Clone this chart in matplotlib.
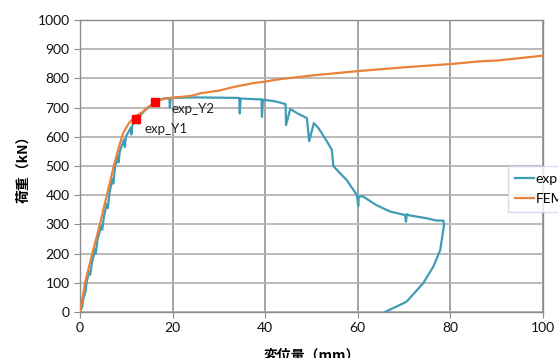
import matplotlib
matplotlib.use("Agg")
import matplotlib.pyplot as plt

# FEM curve (displacement mm, load kN)
fem_x = [0, 1.1, 2.65, 4.3, 5.8, 7.3, 8.5, 9.3, 10.5, 11.5, 12.5, 13.5, 14.4, 16, 18, 20,
         22, 24, 26, 30, 33, 37.5, 40, 43, 50, 60, 70, 80, 86, 88, 90, 100]
fem_y = [0, 100, 200, 300, 400, 500, 570, 612, 645, 663, 675, 685, 698, 716, 730, 734,
         737, 740, 749, 758, 770, 784, 789, 797, 810, 825, 838, 849, 858, 860, 861, 878]

# Experimental curve
exp_x = [0, 0.5, 0.7, 1.2, 1.4, 2.0, 2.2, 2.6, 3.3, 3.4, 3.8, 4.6, 4.8, 5.2, 5.8, 6.0,
         6.4, 7.0, 7.2, 7.6, 8.2, 8.3, 8.6, 9.5, 9.7, 9.9, 11.0, 11.1, 11.3, 12.6, 12.7,
         12.9, 14, 15, 16, 17, 18, 19.3, 19.4, 19.6, 25, 30, 34.4, 34.5, 34.7, 39.2, 39.3,
         39.5, 42, 44.4, 44.5, 45.4, 47, 49, 49.5, 50.5, 51.5, 53.3, 54.4, 54.7, 56, 57.6,
         59.8, 60.1, 60.2, 61, 64, 67, 70.2, 70.4, 70.6, 71.1, 74.9, 77, 78.5, 78.6, 77.8,
         76.3, 74.1, 70.5, 65.9]
exp_y = [0, 20, 45, 70, 100, 140, 128, 170, 215, 200, 250, 295, 282, 330, 370, 356,
         410, 455, 440, 500, 535, 512, 550, 590, 565, 600, 632, 608, 640, 668, 645,
         672, 690, 703, 716, 727, 731, 733, 700, 733, 735, 734, 733, 680, 731, 728, 668,
         727, 722, 712, 640, 695, 680, 664, 585, 647, 630, 585, 555, 500, 478, 452,
         401, 363, 395, 397, 366, 344, 332, 309, 335, 331, 321, 313, 313, 295, 212,
         155, 98, 35, 0]

y1_x, y1_y = [12.1], [661]
y2_x, y2_y = [16.2], [719]

xticks = [0, 20, 40, 60, 80, 100]
yticks = [0, 100, 200, 300, 400, 500, 600, 700, 800, 900, 1000]

plt.rcParams['font.family'] = ['Lato', 'Noto Sans CJK JP', 'DejaVu Sans']

fig = plt.figure(figsize=(5.58, 3.58), dpi=100)
ax = fig.add_axes([80/558, 46/358, 463/558, 292/358])

teal = '#3F9CB5'
orange = '#E8823C'

l1, = ax.plot(exp_x, exp_y, color=teal, lw=1.6, label='exp', zorder=3)
l2, = ax.plot(fem_x, fem_y, color=orange, lw=1.6, label='FEM', zorder=4)
ax.plot(y1_x, y1_y, 's', color='#FF0000', ms=5.5, zorder=5)
ax.plot(y2_x, y2_y, 's', color='#FF0000', ms=5.5, zorder=5)
ax.annotate('exp_Y1', (y1_x[0], y1_y[0]), xytext=(6, -10), textcoords='offset points',
            fontsize=9.5, color='#222222', zorder=6)
ax.annotate('exp_Y2', (y2_x[0], y2_y[0]), xytext=(12, -8), textcoords='offset points',
            fontsize=9.5, color='#222222', zorder=6)

ax.set_xlim(0, 100)
ax.set_ylim(0, 1000)
ax.set_xticks(xticks)
ax.set_yticks(yticks)
ax.tick_params(labelsize=10, colors='#222222', length=4, width=0.8)
ax.tick_params(axis='both', color='#8c8c8c')
for t in ax.get_xticklabels() + ax.get_yticklabels():
    t.set_color('#111111')

ax.xaxis.grid(True, color='#8c8c8c', lw=1.1)
ax.yaxis.grid(True, color='#b4b4b4', lw=1.3)
ax.set_axisbelow(True)
for s in ax.spines.values():
    s.set_color('#8c8c8c')
    s.set_linewidth(1.0)

ax.set_xlabel('変位量（mm）', fontsize=10, fontweight='bold',
              family=['Noto Sans CJK JP'], labelpad=10)
ax.set_ylabel('荷重（kN）', fontsize=10, fontweight='bold',
              family=['Noto Sans CJK JP'], labelpad=5)

leg = fig.legend(handles=[l1, l2], loc='upper left', bbox_to_anchor=(508/558, 1 - 166/358),
                 fontsize=10, frameon=True, fancybox=False, handlelength=1.4,
                 handletextpad=0.1, borderpad=0.5, labelspacing=0.6, borderaxespad=0)
leg.get_frame().set_edgecolor('#c6d6e6')
leg.get_frame().set_linewidth(1.0)

fig.savefig('out.png', dpi=100)
